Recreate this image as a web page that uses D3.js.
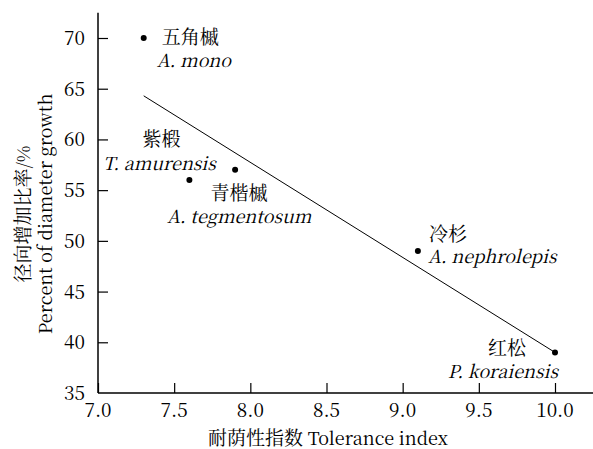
<!DOCTYPE html>
<html><head><meta charset="utf-8">
<script src="https://cdn.jsdelivr.net/npm/d3@7"></script>
</head>
<body style="margin:0"><svg id="c" width="593" height="449"></svg>
<script>
// Data
const speciesCN = ["五角槭","紫椴","青楷槭","冷杉","红松"];
const speciesLatin = ["A. mono","T. amurensis","A. tegmentosum","A. nephrolepis","P. koraiensis"];
const toleranceIndex = [7.3, 7.6, 7.9, 9.1, 10.0];
const diameterGrowth = [70, 56, 57, 49, 39];
const fitX = [7.3, 10.0];
const fitY = [64.3, 39.0];
const xTicks = [7.0, 7.5, 8.0, 8.5, 9.0, 9.5, 10.0];
const yTicks = [35, 40, 45, 50, 55, 60, 65, 70];

const SERIF = '"Noto Serif CJK SC"';
const CJK = '"Noto Serif CJK SC"';

// Label layout (pixel offsets from point): [cnDx, cnDy, cnAnchor, latDx, latDy, latAnchor]
const labelLayout = [
  [18, 6, "start", 13, 29, "start"],
  [-28, -34, "middle", -30, -10, "middle"],
  [4, 30, "middle", 4, 53, "middle"],
  [11, -10, "start", 10, 12, "start"],
  [-29, 3, "end", 3, 26, "end"]
];

const svg = d3.select("#c");
const x = d3.scaleLinear().domain([7, 10]).range([98, 555]);
const y = d3.scaleLinear().domain([35, 70]).range([393, 38]);
const xMaxVal = 10.25, yMaxVal = 72.5;

// axes lines
svg.append("line").attr("x1", x(7)).attr("x2", x(xMaxVal)).attr("y1", y(35)).attr("y2", y(35))
  .attr("stroke", "#000").attr("stroke-width", 1.5);
svg.append("line").attr("x1", x(7)).attr("x2", x(7)).attr("y1", y(35)).attr("y2", y(yMaxVal))
  .attr("stroke", "#000").attr("stroke-width", 1.5);

// x axis ticks
const gx = svg.append("g").attr("transform", `translate(0,${y(35)})`)
  .call(d3.axisBottom(x).tickValues(xTicks).tickFormat("").tickSizeInner(-10).tickSizeOuter(0));
gx.select(".domain").remove();
gx.selectAll(".tick line").attr("stroke", "#000").attr("stroke-width", 1.2);
svg.selectAll("text.xtl").data(xTicks).enter().append("text")
  .attr("x", d => x(d)).attr("y", y(35) + 24).attr("text-anchor", "middle")
  .attr("font-size", 19).style("font-family", SERIF).attr("fill", "#000").text(d => d3.format(".1f")(d));

// y axis
const gy = svg.append("g").attr("transform", `translate(${x(7)},0)`)
  .call(d3.axisLeft(y).tickValues(yTicks.filter(d => d !== 35)).tickFormat("").tickSizeInner(-10).tickSizeOuter(0));
gy.select(".domain").remove();
gy.selectAll(".tick line").attr("stroke", "#000").attr("stroke-width", 1.2);
svg.selectAll("text.ytl").data(yTicks).enter().append("text")
  .attr("x", x(7) - 13).attr("y", d => y(d) + 7).attr("text-anchor", "end")
  .attr("font-size", 19).style("font-family", SERIF).attr("fill", "#000").text(d => d);

// fit line
svg.append("line").attr("x1", x(fitX[0])).attr("y1", y(fitY[0])).attr("x2", x(fitX[1])).attr("y2", y(fitY[1]))
  .attr("stroke", "#000").attr("stroke-width", 1);

// points
const pts = toleranceIndex.map((v, i) => ({x: v, y: diameterGrowth[i], cn: speciesCN[i], lat: speciesLatin[i], L: labelLayout[i]}));
svg.selectAll("circle.pt").data(pts).enter().append("circle")
  .attr("cx", d => x(d.x)).attr("cy", d => y(d.y)).attr("r", 3).attr("fill", "#000");

svg.selectAll("text.cn").data(pts).enter().append("text")
  .attr("x", d => x(d.x) + d.L[0]).attr("y", d => y(d.y) + d.L[1]).attr("text-anchor", d => d.L[2])
  .attr("font-size", 19).style("font-family", CJK).attr("fill", "#000").text(d => d.cn);
svg.selectAll("text.lat").data(pts).enter().append("text")
  .attr("x", d => x(d.x) + d.L[3]).attr("y", d => y(d.y) + d.L[4]).attr("text-anchor", d => d.L[5])
  .attr("font-size", 18).attr("font-style", "italic").style("font-family", SERIF).attr("fill", "#000").text(d => d.lat);

// axis titles
const xt = svg.append("text").attr("x", 328).attr("y", 445).attr("text-anchor", "middle").attr("fill", "#000")
  .attr("font-size", 19).style("font-family", SERIF);
xt.append("tspan").text("耐荫性指数");
xt.append("tspan").attr("font-size", 18).text(" Tolerance index");

const yt1 = svg.append("text").attr("transform", "translate(30,214) rotate(-90)").attr("text-anchor", "middle").attr("fill", "#000")
  .attr("font-size", 19).style("font-family", SERIF);
yt1.append("tspan").text("径向增加比率");
yt1.append("tspan").attr("font-size", 18).text("/%");
svg.append("text").attr("transform", "translate(52,214) rotate(-90)").attr("text-anchor", "middle")
  .attr("font-size", 18).style("font-family", SERIF).attr("fill", "#000").text("Percent of diameter growth");
</script></body></html>
